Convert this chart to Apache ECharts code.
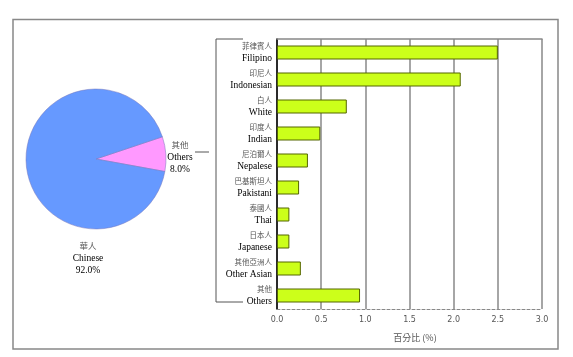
<!DOCTYPE html>
<html><head><meta charset="utf-8">
<script src="https://cdn.jsdelivr.net/npm/echarts@6/dist/echarts.min.js"></script>
<style>html,body{margin:0;padding:0;background:#fff}#c{width:573px;height:357px}</style>
</head><body><div id="c"></div>
<script>
var catZh = ['菲律賓人','印尼人','白人','印度人','尼泊爾人','巴基斯坦人','泰國人','日本人','其他亞洲人','其他'];
var catEn = ['Filipino','Indonesian','White','Indian','Nepalese','Pakistani','Thai','Japanese','Other Asian','Others'];
var barValues = [2.5, 2.08, 0.79, 0.49, 0.35, 0.25, 0.14, 0.14, 0.27, 0.94];
var pieZh = ['其他','華人'];
var pieEn = ['Others','Chinese'];
var pieValues = [8.0, 92.0];
var xTicks = ['0.0','0.5','1.0','1.5','2.0','2.5','3.0'];

var chart = echarts.init(document.getElementById('c'));
var serif = '"Liberation Serif","Times New Roman",serif';
var cjk = '"Noto Sans CJK TC","Noto Sans CJK SC",sans-serif';
var pieLabelPos = [[180,157],[88,258]];

chart.setOption({
  animation:false,
  backgroundColor:'#fff',
  grid:{left:277,right:31,top:39,bottom:48},
  xAxis:[{
    type:'value',min:0,max:3,interval:0.5,position:'bottom',
    axisLine:{show:true,lineStyle:{color:'#888',width:1,type:[3,2]}},
    axisTick:{show:false},
    splitLine:{show:true,lineStyle:{color:'#888',width:1.5}},
    axisLabel:{color:'#555',fontSize:8,fontFamily:'"DejaVu Sans",sans-serif',margin:7,
      formatter:function(v){return xTicks[Math.round(v/0.5)];}},
    name:'百分比 (%)',nameLocation:'middle',nameGap:24,
    nameTextStyle:{color:'#555',fontSize:9,fontFamily:cjk,padding:[0,0,0,11]}
  },{
    type:'value',min:0,max:3,position:'top',
    axisLine:{show:true,lineStyle:{color:'#888',width:1.5}},
    axisTick:{show:false},axisLabel:{show:false},splitLine:{show:false}
  }],
  yAxis:{
    type:'category',inverse:true,data:catEn,
    axisLine:{show:true,lineStyle:{color:'#000',width:1.5}},
    axisTick:{show:false},
    axisLabel:{margin:5,align:'right',
      formatter:function(v,i){return '{zh|'+catZh[i]+'}\n{en|'+v+'}';},
      rich:{
        zh:{fontSize:7.5,fontFamily:cjk,color:'#555',lineHeight:11,align:'right'},
        en:{fontSize:9.5,fontFamily:serif,color:'#000',lineHeight:12,align:'right'}
      }}
  },
  series:[{
    type:'bar',data:barValues,barWidth:14,xAxisIndex:0,
    itemStyle:{color:'#CCFF1A',borderColor:'#556600',borderWidth:1}
  },{
    type:'pie',center:[96,159],radius:70,startAngle:18.5,clockwise:true,
    avoidLabelOverlap:false,
    data:pieValues.map(function(v,i){return {value:v,name:pieEn[i]};}),
    color:['#FF99FF','#6699FF'],
    itemStyle:{borderColor:'#7777bb',borderWidth:0.5},
    label:{show:true,position:'inside',
      formatter:function(p){return '{zh|'+pieZh[p.dataIndex]+'}\n{en|'+p.name+'}\n{en|'+pieValues[p.dataIndex].toFixed(1)+'%}';},
      rich:{
        zh:{fontSize:8.5,fontFamily:cjk,color:'#555',lineHeight:12,align:'center'},
        en:{fontSize:9.5,fontFamily:serif,color:'#000',lineHeight:12,align:'center'}
      }},
    labelLine:{show:false},
    labelLayout:function(p){var q=pieLabelPos[p.dataIndex];return {x:q[0],y:q[1],align:'center',verticalAlign:'middle'};},
    emphasis:{disabled:true}
  }],
  graphic:[
    {type:'rect',shape:{x:13,y:19.5,width:545,height:329.5},style:{fill:null,stroke:'#888',lineWidth:1.5}},
    {type:'polyline',shape:{points:[[243,39],[216,39],[216,302],[243,302]]},style:{fill:null,stroke:'#555',lineWidth:1}},
    {type:'line',shape:{x1:195,y1:152,x2:209,y2:152},style:{stroke:'#555',lineWidth:1}}
  ]
});
</script></body></html>
